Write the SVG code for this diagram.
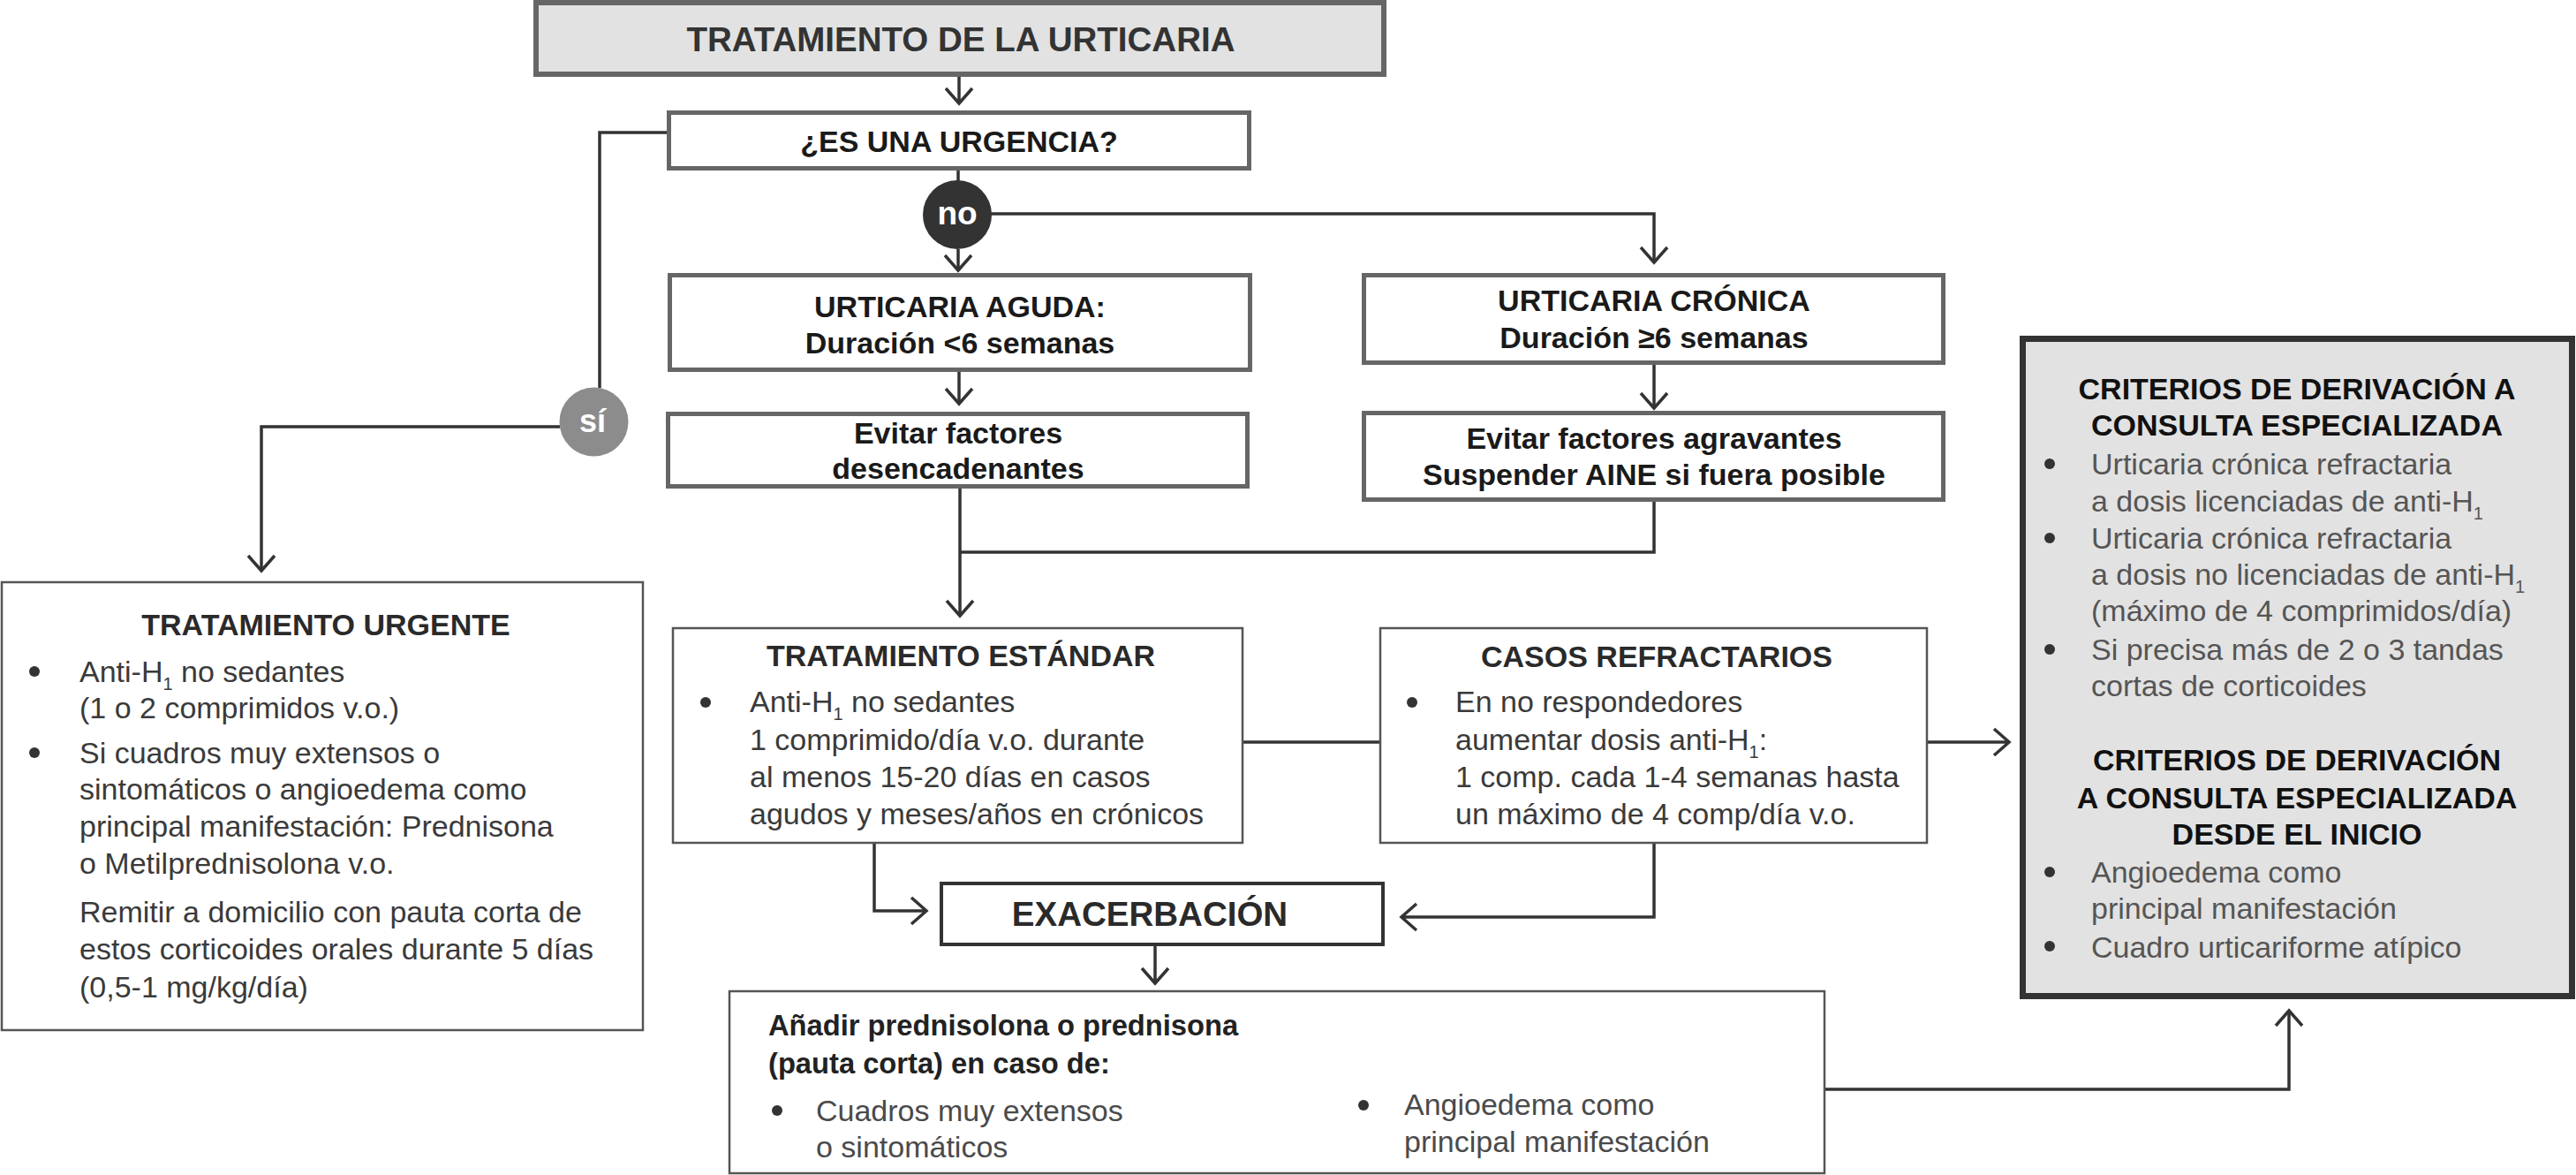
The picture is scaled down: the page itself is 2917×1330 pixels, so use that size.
<svg xmlns="http://www.w3.org/2000/svg" width="2917" height="1330" viewBox="0 0 2917 1330">
<style>
text{font-family:"Liberation Sans",Arial,Helvetica,sans-serif;}
.flow{fill:#fff;stroke:#666;stroke-width:5;}
.thin{fill:#fff;stroke:#555;stroke-width:2.5;}
.hd{font-weight:bold;font-size:34px;fill:#1a1a1a;text-anchor:middle;}
.body{font-size:34px;fill:#3a3a3a;}
.lt{font-size:34px;fill:#555;}
.bt{font-weight:bold;font-size:32.7px;fill:#222;}
.sub{font-size:20px;}
.dot{fill:#333;}
.conn{fill:none;stroke:#333;stroke-width:3.5;}
</style>
<defs>
<marker id="arr" viewBox="-22 -18 26 36" refX="0" refY="0" markerWidth="26" markerHeight="36" markerUnits="userSpaceOnUse" orient="auto" overflow="visible">
<path d="M-17,-15 L0,0 L-17,15" fill="none" stroke="#333" stroke-width="3.5"/>
</marker>
</defs>

<g id="connectors">
<path class="conn" d="M1086,87 V117" marker-end="url(#arr)"/>
<path class="conn" d="M1085,193 V205"/>
<path class="conn" d="M1085,282 V306" marker-end="url(#arr)"/>
<path class="conn" d="M1122,242 H1873 V297" marker-end="url(#arr)"/>
<path class="conn" d="M1086,421 V457" marker-end="url(#arr)"/>
<path class="conn" d="M1873,413 V462" marker-end="url(#arr)"/>
<path class="conn" d="M1087,553 V697" marker-end="url(#arr)"/>
<path class="conn" d="M1873,568 V625 H1087"/>
<path class="conn" d="M757,150 H679 V439"/>
<path class="conn" d="M634,483 H296 V646" marker-end="url(#arr)"/>
<path class="conn" d="M1407,840 H1563"/>
<path class="conn" d="M2182,840 H2275" marker-end="url(#arr)"/>
<path class="conn" d="M990,955 V1031 H1049" marker-end="url(#arr)"/>
<path class="conn" d="M1873,955 V1038 H1587" marker-end="url(#arr)"/>
<path class="conn" d="M1308,1071 V1113" marker-end="url(#arr)"/>
<path class="conn" d="M2067,1233 H2592 V1144" marker-end="url(#arr)"/>
</g>

<g id="title">
<rect x="607" y="3" width="960" height="81" fill="#e2e2e2" stroke="#666" stroke-width="6"/>
<text x="1088" y="58" class="hd" style="font-size:38.5px;fill:#333">TRATAMIENTO DE LA URTICARIA</text>
</g>

<g id="urgencia">
<rect class="flow" x="757.5" y="127.5" width="657" height="63"/>
<text x="1086" y="172" class="hd">¿ES UNA URGENCIA?</text>
</g>

<g id="no">
<circle cx="1084" cy="243" r="39" fill="#333"/>
<text x="1084" y="254" class="hd" style="font-size:37px;fill:#fff">no</text>
</g>

<g id="si">
<circle cx="672.5" cy="477.5" r="39" fill="#8c8c8c"/>
<text x="671" y="489" class="hd" style="font-size:36px;fill:#fff">sí</text>
</g>

<g id="aguda">
<rect class="flow" x="758.5" y="311.5" width="657" height="107"/>
<text x="1087" y="359" class="hd">URTICARIA AGUDA:</text>
<text x="1087" y="400" class="hd">Duración &lt;6 semanas</text>
</g>

<g id="evitar-desencadenantes">
<rect class="flow" x="756.5" y="468.5" width="656" height="82"/>
<text x="1085" y="502" class="hd">Evitar factores</text>
<text x="1085" y="542" class="hd">desencadenantes</text>
</g>

<g id="cronica">
<rect class="flow" x="1544.5" y="311.5" width="656" height="99"/>
<text x="1873" y="352" class="hd">URTICARIA CRÓNICA</text>
<text x="1873" y="394" class="hd">Duración ≥6 semanas</text>
</g>

<g id="evitar-agravantes">
<rect class="flow" x="1544.5" y="467.5" width="656" height="98"/>
<text x="1873" y="508" class="hd">Evitar factores agravantes</text>
<text x="1873" y="549" class="hd">Suspender AINE si fuera posible</text>
</g>

<g id="urgente">
<rect class="thin" x="2" y="659" width="726" height="507"/>
<text x="369" y="719" class="hd" style="fill:#2a2a2a">TRATAMIENTO URGENTE</text>
<circle class="dot" cx="39" cy="760" r="6"/>
<circle class="dot" cx="39" cy="852" r="6"/>
<text x="90" y="772" class="body">Anti-H<tspan class="sub" dy="9">1</tspan><tspan dy="-9"> no sedantes</tspan></text>
<text x="90" y="813" class="body">(1 o 2 comprimidos v.o.)</text>
<text x="90" y="864" class="body">Si cuadros muy extensos o</text>
<text x="90" y="905" class="body">sintomáticos o angioedema como</text>
<text x="90" y="947" class="body">principal manifestación: Prednisona</text>
<text x="90" y="989" class="body">o Metilprednisolona v.o.</text>
<text x="90" y="1044" class="body">Remitir a domicilio con pauta corta de</text>
<text x="90" y="1086" class="body">estos corticoides orales durante 5 días</text>
<text x="90" y="1129" class="body">(0,5-1 mg/kg/día)</text>
</g>

<g id="estandar">
<rect class="thin" x="762" y="711" width="645" height="243"/>
<text x="1088" y="754" class="hd" style="fill:#2a2a2a">TRATAMIENTO ESTÁNDAR</text>
<circle class="dot" cx="799" cy="795" r="6"/>
<text x="849" y="806" class="body">Anti-H<tspan class="sub" dy="9">1</tspan><tspan dy="-9"> no sedantes</tspan></text>
<text x="849" y="849" class="body">1 comprimido/día v.o. durante</text>
<text x="849" y="891" class="body">al menos 15-20 días en casos</text>
<text x="849" y="933" class="body">agudos y meses/años en crónicos</text>
</g>

<g id="refractarios">
<rect class="thin" x="1563" y="711" width="619" height="243"/>
<text x="1876" y="755" class="hd" style="fill:#2a2a2a">CASOS REFRACTARIOS</text>
<circle class="dot" cx="1599" cy="795" r="6"/>
<text x="1648" y="806" class="body">En no respondedores</text>
<text x="1648" y="849" class="body">aumentar dosis anti-H<tspan class="sub" dy="9">1</tspan><tspan dy="-9">:</tspan></text>
<text x="1648" y="891" class="body">1 comp. cada 1-4 semanas hasta</text>
<text x="1648" y="933" class="body">un máximo de 4 comp/día v.o.</text>
</g>

<g id="exacerbacion">
<rect x="1066" y="1000" width="500" height="69" fill="#fff" stroke="#333" stroke-width="4"/>
<text x="1302" y="1048" class="hd" style="font-size:38.5px;fill:#2a2a2a">EXACERBACIÓN</text>
</g>

<g id="prednisolona">
<rect class="thin" x="826" y="1122" width="1240" height="206"/>
<text x="870" y="1172" class="bt">Añadir prednisolona o prednisona</text>
<text x="870" y="1215" class="bt">(pauta corta) en caso de:</text>
<circle class="dot" cx="880" cy="1257" r="6"/>
<text x="924" y="1269" class="body" style="fill:#4a4a4a">Cuadros muy extensos</text>
<text x="924" y="1310" class="body" style="fill:#4a4a4a">o sintomáticos</text>
<circle class="dot" cx="1544" cy="1251" r="6"/>
<text x="1590" y="1262" class="body" style="fill:#4a4a4a">Angioedema como</text>
<text x="1590" y="1304" class="body" style="fill:#4a4a4a">principal manifestación</text>
</g>

<g id="criterios">
<rect x="2290.5" y="383.5" width="622" height="744" fill="#e2e2e2" stroke="#333" stroke-width="7"/>
<text x="2601" y="452" class="hd" style="fill:#111">CRITERIOS DE DERIVACIÓN A</text>
<text x="2601" y="493" class="hd" style="fill:#111">CONSULTA ESPECIALIZADA</text>
<circle class="dot" cx="2321" cy="525" r="6"/>
<text x="2368" y="537" class="lt">Urticaria crónica refractaria</text>
<text x="2368" y="579" class="lt">a dosis licenciadas de anti-H<tspan class="sub" dy="9">1</tspan></text>
<circle class="dot" cx="2321" cy="609" r="6"/>
<text x="2368" y="621" class="lt">Urticaria crónica refractaria</text>
<text x="2368" y="662" class="lt">a dosis no licenciadas de anti-H<tspan class="sub" dy="9">1</tspan></text>
<text x="2368" y="703" class="lt">(máximo de 4 comprimidos/día)</text>
<circle class="dot" cx="2321" cy="735" r="6"/>
<text x="2368" y="747" class="lt">Si precisa más de 2 o 3 tandas</text>
<text x="2368" y="788" class="lt">cortas de corticoides</text>
<text x="2601" y="872" class="hd" style="fill:#111">CRITERIOS DE DERIVACIÓN</text>
<text x="2601" y="915" class="hd" style="fill:#111">A CONSULTA ESPECIALIZADA</text>
<text x="2601" y="956" class="hd" style="fill:#111">DESDE EL INICIO</text>
<circle class="dot" cx="2321" cy="987" r="6"/>
<text x="2368" y="999" class="lt">Angioedema como</text>
<text x="2368" y="1040" class="lt">principal manifestación</text>
<circle class="dot" cx="2321" cy="1071" r="6"/>
<text x="2368" y="1084" class="lt">Cuadro urticariforme atípico</text>
</g>
</svg>
